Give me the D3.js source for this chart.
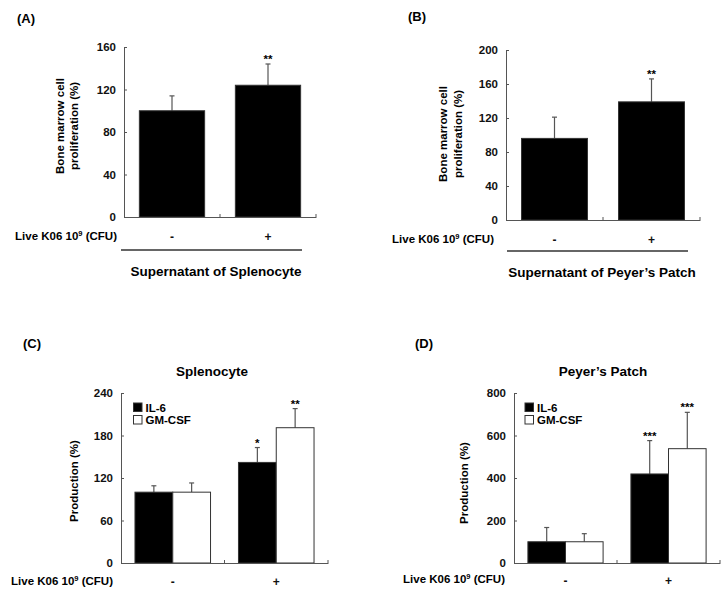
<!DOCTYPE html>
<html><head><meta charset="utf-8">
<script src="https://cdn.jsdelivr.net/npm/d3@7"></script>
<style>
body{margin:0;background:#fff;}
svg{display:block;font-family:Arial,"Liberation Sans",sans-serif;font-weight:bold;}
</style></head><body>
<svg id="c" width="726" height="593"></svg>
<script>
// ---- data ----
const categories = ["-", "+"];
const xLabel = "Live K06 10";
// Panel A: Supernatant of Splenocyte
const aValues = [100, 124];
const aErrors = [14, 20];
const aStars = ["", "**"];
const aTicks = [0, 40, 80, 120, 160];
// Panel B: Supernatant of Peyer's Patch
const bValues = [96, 139];
const bErrors = [25, 27];
const bStars = ["", "**"];
const bTicks = [0, 40, 80, 120, 160, 200];
// Panel C: Splenocyte
const series = ["IL-6", "GM-CSF"];
const cIL6 = [100, 142];
const cIL6Err = [9, 21];
const cGM = [100, 191];
const cGMErr = [13, 27];
const cIL6Stars = ["", "*"];
const cGMStars = ["", "**"];
const cTicks = [0, 60, 120, 180, 240];
// Panel D: Peyer's Patch
const dIL6 = [100, 419];
const dIL6Err = [67, 157];
const dGM = [100, 538];
const dGMErr = [38, 171];
const dIL6Stars = ["", "***"];
const dGMStars = ["", "***"];
const dTicks = [0, 200, 400, 600, 800];

const svg = d3.select("#c");
const AX = "#555";

function panel(opt) {
  const g = svg.append("g");
  const x = d3.scaleBand().domain(categories).range([opt.x0, opt.x1]);
  const y = d3.scaleLinear().domain([0, opt.ticks[opt.ticks.length - 1]]).range([opt.y0, opt.y1]);

  // bars
  const nS = opt.series.length;
  const groupW = x.bandwidth() * opt.groupFrac;
  const sub = d3.scaleBand().domain(d3.range(nS)).range([0, groupW]);
  opt.series.forEach((s, si) => {
    categories.forEach((c, ci) => {
      const bx = x(c) + (x.bandwidth() - groupW) / 2 + sub(si);
      const v = s.values[ci], e = s.errors[ci];
      const cx = bx + sub.bandwidth() / 2;
      // error bar
      g.append("line").attr("x1", cx).attr("x2", cx).attr("y1", y(v)).attr("y2", y(v + e))
        .attr("stroke", AX).attr("stroke-width", 1.2);
      g.append("line").attr("x1", cx - 2.5).attr("x2", cx + 2.5).attr("y1", y(v + e)).attr("y2", y(v + e))
        .attr("stroke", AX).attr("stroke-width", 1.2);
      g.append("rect").attr("x", bx).attr("y", y(v)).attr("width", sub.bandwidth()).attr("height", y(0) - y(v))
        .attr("fill", s.fill).attr("stroke", "#333").attr("stroke-width", 1);
      if (s.stars[ci]) {
        g.append("text").attr("x", cx).attr("y", y(v + e) - 1).attr("text-anchor", "middle")
          .attr("font-size", 11.5).text(s.stars[ci]);
      }
    });
  });

  // y axis
  const ya = g.append("g").attr("transform", `translate(${opt.x0},0)`)
    .call(d3.axisLeft(y).tickValues(opt.ticks).tickSize(-3).tickSizeOuter(0).tickPadding(8));
  ya.selectAll("path,line").attr("stroke", AX);
  ya.selectAll("text").attr("font-size", 11.5).attr("font-weight", "bold").attr("fill", "#111")
    .attr("font-family", "Arial, 'Liberation Sans', sans-serif");

  // x axis
  const xa = g.append("g").attr("transform", `translate(0,${opt.y0})`)
    .call(d3.axisBottom(x).tickSize(0).tickSizeOuter(0).tickPadding(opt.catPad));
  xa.select("path").attr("stroke", AX);
  xa.selectAll("text").attr("font-size", 12).attr("font-weight", "bold").attr("fill", "#111")
    .attr("font-family", "Arial, 'Liberation Sans', sans-serif");
  categories.forEach(c => {
    const bx = x(c) + x.bandwidth();
    g.append("line").attr("x1", bx).attr("x2", bx).attr("y1", opt.y0).attr("y2", opt.y0 - 3).attr("stroke", AX);
  });

  // x label
  const t = g.append("text").attr("x", opt.xlabX).attr("y", opt.xlabY).attr("text-anchor", "end")
    .attr("font-size", 11.5);
  t.append("tspan").text(xLabel);
  t.append("tspan").attr("font-size", 7.5).attr("dy", -4.5).text("9");
  t.append("tspan").attr("dy", 4.5).text(" (CFU)");

  // y label
  opt.ylab.forEach((l, i) => {
    g.append("text").attr("transform", `translate(${opt.ylabX[i]},${opt.ylabY}) rotate(-90)`)
      .attr("text-anchor", "middle").attr("dominant-baseline", "central").attr("font-size", 11.5).text(l);
  });

  // panel letter
  g.append("text").attr("x", opt.letX).attr("y", opt.letY).attr("font-size", 13).text(opt.letter);

  if (opt.group) {
    g.append("line").attr("x1", opt.group.x1).attr("x2", opt.group.x2).attr("y1", opt.group.y).attr("y2", opt.group.y)
      .attr("stroke", "#333").attr("stroke-width", 1.5);
    g.append("text").attr("x", opt.group.tx).attr("y", opt.group.ty).attr("text-anchor", "middle")
      .attr("font-size", 13.5).text(opt.group.text);
  }
  if (opt.title) {
    g.append("text").attr("x", opt.title.x).attr("y", opt.title.y).attr("text-anchor", "middle")
      .attr("font-size", 13.5).text(opt.title.text);
  }
  if (opt.legend) {
    opt.series.forEach((s, i) => {
      g.append("rect").attr("x", opt.legend.x).attr("y", opt.legend.y + i * 12.5).attr("width", 8.5).attr("height", 8.5)
        .attr("fill", s.fill).attr("stroke", "#333").attr("stroke-width", 1);
      g.append("text").attr("x", opt.legend.x + 12).attr("y", opt.legend.y + i * 12.5 + 4.5)
        .attr("dominant-baseline", "central").attr("font-size", 11.5).text(series[i]);
    });
  }
}

panel({
  x0: 124, x1: 316, y0: 217, y1: 47, ticks: aTicks, groupFrac: 0.68, catPad: 15,
  series: [{values: aValues, errors: aErrors, stars: aStars, fill: "#000"}],
  xlabX: 117, xlabY: 240, ylab: ["Bone marrow cell", "proliferation (%)"], ylabX: [60, 74], ylabY: 126,
  letter: "(A)", letX: 17, letY: 23,
  group: {x1: 121, x2: 302, y: 250, text: "Supernatant of Splenocyte", tx: 216, ty: 276}
});
panel({
  x0: 506, x1: 700, y0: 220, y1: 50, ticks: bTicks, groupFrac: 0.68, catPad: 15,
  series: [{values: bValues, errors: bErrors, stars: bStars, fill: "#000"}],
  xlabX: 494, xlabY: 243, ylab: ["Bone marrow cell", "proliferation (%)"], ylabX: [443, 458], ylabY: 134,
  letter: "(B)", letX: 408, letY: 21,
  group: {x1: 507, x2: 688, y: 251, text: "Supernatant of Peyer\u2019s Patch", tx: 602, ty: 277}
});
panel({
  x0: 121, x1: 328, y0: 563, y1: 393, ticks: cTicks, groupFrac: 0.73, catPad: 14,
  series: [{values: cIL6, errors: cIL6Err, stars: cIL6Stars, fill: "#000"},
           {values: cGM, errors: cGMErr, stars: cGMStars, fill: "#fff"}],
  xlabX: 113, xlabY: 585, ylab: ["Production (%)"], ylabX: [74], ylabY: 481,
  letter: "(C)", letX: 23, letY: 348,
  title: {x: 212, y: 376, text: "Splenocyte"},
  legend: {x: 133.5, y: 403}
});
panel({
  x0: 514, x1: 720, y0: 563, y1: 393, ticks: dTicks, groupFrac: 0.73, catPad: 13,
  series: [{values: dIL6, errors: dIL6Err, stars: dIL6Stars, fill: "#000"},
           {values: dGM, errors: dGMErr, stars: dGMStars, fill: "#fff"}],
  xlabX: 505, xlabY: 583, ylab: ["Production (%)"], ylabX: [464], ylabY: 483,
  letter: "(D)", letX: 415, letY: 348,
  title: {x: 603, y: 376, text: "Peyer\u2019s Patch"},
  legend: {x: 525, y: 403}
});
</script>
</body></html>
